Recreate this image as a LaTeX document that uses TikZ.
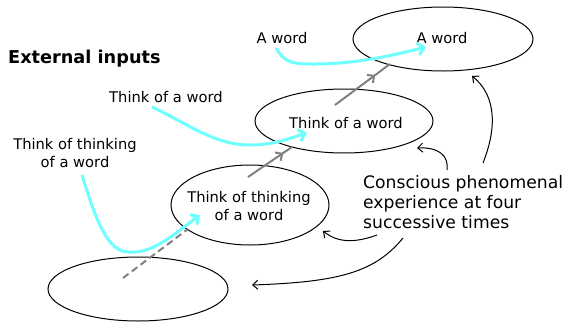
\documentclass[tikz,border=0pt]{standalone}
\usepackage{fontspec}
\setmainfont{DejaVu Sans}
\usetikzlibrary{shapes.geometric,arrows.meta,decorations.markings}
\definecolor{incyan}{RGB}{110,255,255}
\definecolor{flowgray}{RGB}{128,128,128}
\begin{document}
\begin{tikzpicture}[x=1pt,y=-1pt,
  state/.style={ellipse,draw,line width=1pt,inner sep=0pt},
  lbl/.style={font=\fontsize{14.7}{18}\selectfont,inner sep=0pt,align=center},
  inflow/.style={draw=incyan,line width=3pt,-{Straight Barb[length=6pt,width=12pt]}},
  dashflow/.style={draw=flowgray,line width=2pt,dash pattern=on 7pt off 4pt},
  midflow/.style={draw=flowgray,line width=2pt,postaction={decorate},
    decoration={markings,mark=at position #1 with {\arrow{Straight Barb[length=5pt,width=10pt]}}}},
  pointer/.style={draw=black,line width=1pt,-{Straight Barb[length=5pt,width=9pt]}}
]
\useasboundingbox (0,0) rectangle (566,322);

% states
\node[state,minimum width=180pt,minimum height=64pt] (e4) at (443,39) {};
\node[state,minimum width=178pt,minimum height=64pt] (e3) at (344,121) {};
\node[state,minimum width=158pt,minimum height=80pt] (e2) at (250,205) {};
\node[state,minimum width=180pt,minimum height=64pt] (e1) at (138,289) {};

\node[lbl,anchor=base] (t4) at (442,43) {A word};
\node[lbl,anchor=base] (t3) at (346,128) {Think of a word};
\node[lbl,anchor=base] (t2) at (249,220) {Think of thinking\\of a word};

% external inputs
\node[font=\fontsize{17.7}{21}\selectfont\bfseries,inner sep=0pt,anchor=base west] (hdr) at (8,63) {External inputs};
\node[lbl,anchor=base] (in4) at (282,43) {A word};
\node[lbl,anchor=base] (in3) at (166,102) {Think of a word};
\node[lbl,anchor=base] (in2) at (75,167) {Think of thinking\\of a word};

\node[font=\fontsize{17.2}{20}\selectfont,inner sep=0pt,align=left,anchor=base west] (note) at (363,228) {Conscious phenomenal\\experience at four\\successive times};

% coordinates
\coordinate (c1s) at (276,48); \coordinate (c1e) at (426,47);
\coordinate (c2s) at (152,107); \coordinate (c2e) at (307,133);
\coordinate (c3s) at (82,175); \coordinate (c3e) at (200,215);
\coordinate (g1s) at (123,278); \coordinate (g1e) at (188,229);
\coordinate (g2s) at (248,177); \coordinate (g2e) at (292,147);
\coordinate (g3s) at (335,105); \coordinate (g3e) at (390,64);
\coordinate (b4s) at (483,163); \coordinate (b4e) at (472,76);
\coordinate (b3s) at (447,170); \coordinate (b3e) at (417,148);
\coordinate (b2s) at (377,235); \coordinate (b2e) at (323,231);
\coordinate (b1s) at (403,238); \coordinate (b1e) at (252,285);

% cyan input arrows
\draw[inflow] (c1s) .. controls (285,64) and (295,64) .. (315,64) .. controls (355,64) and (390,56) .. (c1e);
\draw[inflow] (c2s) .. controls (190,125) and (215,145) .. (250,145) .. controls (275,145) and (290,138) .. (c2e);
\draw[inflow] (c3s) .. controls (90,200) and (102,244) .. (122,251) .. controls (150,258) and (175,233) .. (c3e);

% gray transitions
\draw[dashflow] (g1s) -- (g1e);
\draw[midflow=0.8] (g2s) -- (g2e);
\draw[midflow=0.73] (g3s) -- (g3e);

% black pointers
\draw[pointer] (b4s) .. controls (500,120) and (492,92) .. (b4e);
\draw[pointer] (b3s) .. controls (449,155) and (438,147) .. (b3e);
\draw[pointer] (b2s) .. controls (355,243) and (338,243) .. (b2e);
\draw[pointer] (b1s) .. controls (375,272) and (340,282) .. (b1e);
\end{tikzpicture}
\end{document}
